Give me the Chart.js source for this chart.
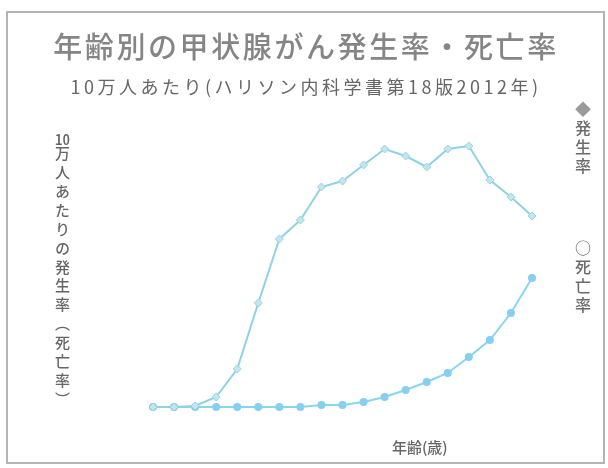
<!DOCTYPE html>
<html>
<head>
<meta charset="utf-8">
<script src="https://cdn.jsdelivr.net/npm/chart.js@4/dist/chart.umd.min.js"></script>
<style>
  html, body { margin:0; padding:0; background:#fff; }
  #wrap { position:relative; width:608px; height:468px; overflow:hidden; background:#fff;
          font-family:"Noto Sans CJK JP","Noto Sans",sans-serif; }
  #frame { position:absolute; left:6px; top:11px; width:599px; height:453px; box-sizing:border-box;
           border:2px solid #b4b4b4; }
  canvas { position:absolute; left:0; top:0; }
  .t { position:absolute; white-space:nowrap; }
  #title { left:2px; width:608px; top:26px; text-align:center; font-size:29px; letter-spacing:2.6px; color:#858585; line-height:38px; font-weight:500; }
  #sub { left:2px; width:608px; top:74px; text-align:center; font-size:18px; letter-spacing:3.5px; color:#666; line-height:24px; }
  .v { position:absolute; writing-mode:vertical-rl; white-space:nowrap; }
  .tcu { text-combine-upright:all; }
  #ytitle { left:52px; top:131px; font-size:15px; letter-spacing:3.9px; color:#666; line-height:20px; font-weight:500; }
  #leg1 { left:573px; top:101px; font-size:16px; letter-spacing:3px; color:#6c6c6c; line-height:20px; font-weight:500; }
  #leg2 { left:573px; top:240px; font-size:16px; letter-spacing:3px; color:#6c6c6c; line-height:20px; font-weight:500; }
  #xtitle { left:392px; top:436px; font-size:15px; color:#666; line-height:22px; font-weight:500; }
</style>
</head>
<body>
<div id="wrap">
  <div id="frame"></div>
  <canvas id="c" width="608" height="468"></canvas>
  <div class="t" id="title">年齢別の甲状腺がん発生率・死亡率</div>
  <div class="t" id="sub">10万人あたり(ハリソン内科学書第18版2012年)</div>
  <div class="v" id="ytitle"><span class="tcu">10</span>万人あたりの発生率（死亡率）</div>
  <div class="v" id="leg1"><span style="color:#9a9a9a">◆</span>発生率</div>
  <div class="v" id="leg2">○死亡率</div>
  <div class="t" id="xtitle">年齢(歳)</div>
</div>
<script>
// Age groups (years)
const ageGroups = ['0-4','5-9','10-14','15-19','20-24','25-29','30-34','35-39','40-44','45-49',
                   '50-54','55-59','60-64','65-69','70-74','75-79','80-84','85-89','90+'];
// Incidence per 100,000 (arbitrary units)
const incidence = [0.0, 0.0, 0.05, 0.5, 1.9, 5.2, 8.4, 9.35, 11.0, 11.3,
                   12.1, 12.9, 12.55, 12.0, 12.9, 13.05, 11.35, 10.5, 9.55];
// Mortality per 100,000
const mortality = [0.0, 0.0, 0.0, 0.0, 0.0, 0.0, 0.0, 0.0, 0.1, 0.1,
                   0.25, 0.5, 0.85, 1.25, 1.7, 2.5, 3.35, 4.7, 6.45];
const seriesNames = ['発生率', '死亡率'];

new Chart(document.getElementById('c'), {
  type: 'line',
  data: {
    labels: ageGroups,
    datasets: [
      { label: seriesNames[0], data: incidence, borderColor: '#8fd2e3', borderWidth: 2,
        pointStyle: 'rectRot', pointRadius: 4, pointBackgroundColor: '#c2e5ee', pointBorderColor: '#98d2e2',
        pointBorderWidth: 1, tension: 0, clip: false },
      { label: seriesNames[1], data: mortality, borderColor: '#8ad5ee', borderWidth: 2,
        pointStyle: 'circle', pointRadius: 3, pointBackgroundColor: '#86cff0', pointBorderColor: '#86cff0',
        tension: 0, clip: false }
    ]
  },
  options: {
    responsive: false,
    animation: false,
    layout: { padding: { left: 153, right: 76, top: 127, bottom: 61 } },
    plugins: { legend: { display: false }, title: { display: false }, tooltip: { enabled: false } },
    scales: {
      x: { display: false, offset: false },
      y: { display: false, min: 0, max: 14 }
    }
  }
});
</script>
</body>
</html>
